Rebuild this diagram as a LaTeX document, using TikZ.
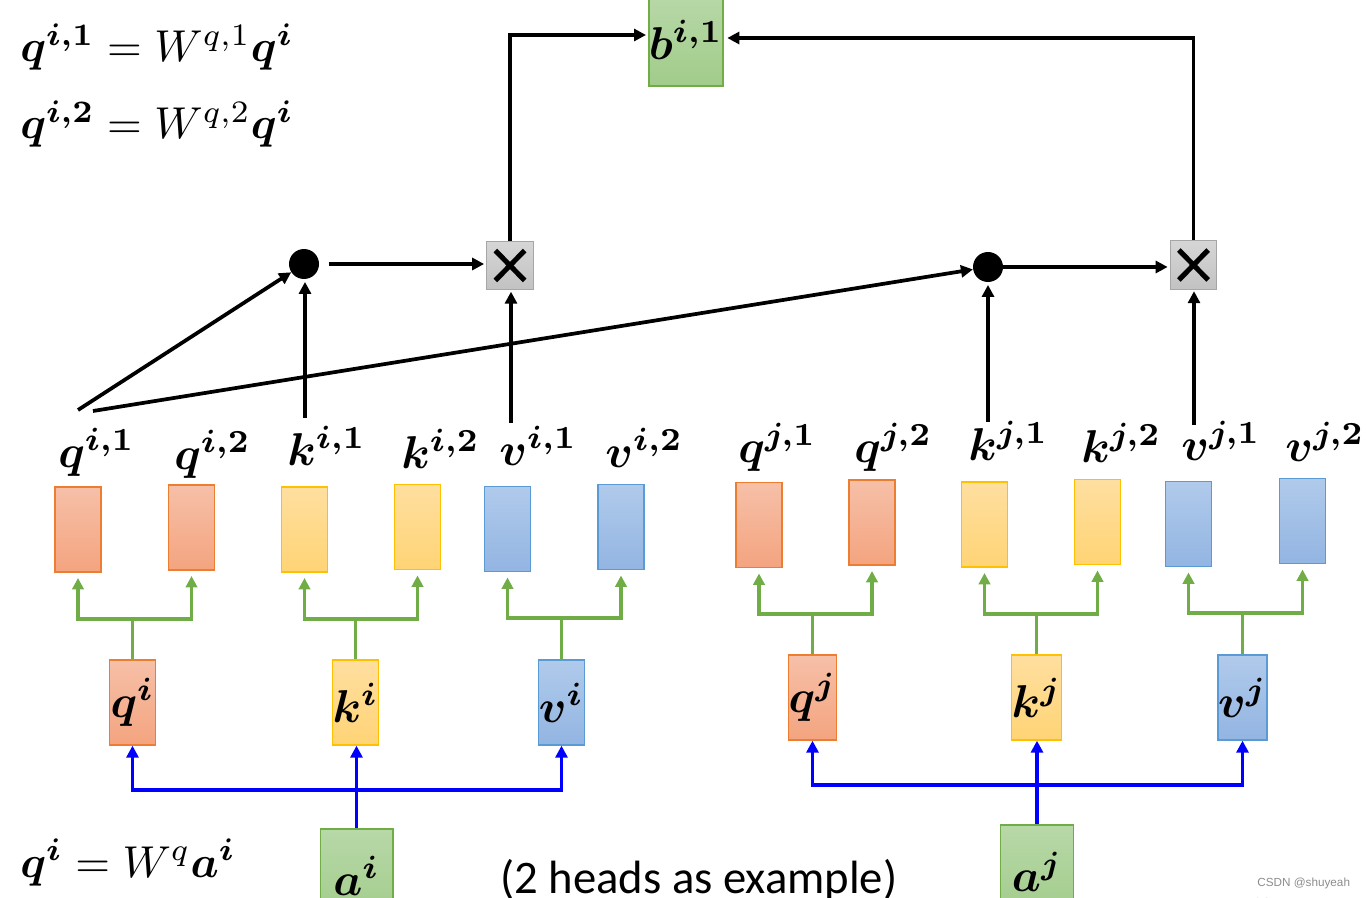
\documentclass[tikz,border=0pt]{standalone}
\usepackage{amsmath}
\usepackage{graphicx}
\usepackage{fontspec}
\newfontfamily\calibri{Carlito}
\newfontfamily\arialf{Liberation Sans}
\usetikzlibrary{arrows.meta}
\newcommand{\mlab}[1]{\scalebox{3.45}{\boldmath$#1$}}
\newcommand{\meqn}[1]{\scalebox{3.35}{$#1$}}
\definecolor{qtop}{HTML}{F6C0A8}
\definecolor{qbot}{HTML}{F4A47F}
\definecolor{qbd}{HTML}{ED7D31}
\definecolor{ktop}{HTML}{FFDFA0}
\definecolor{kbot}{HTML}{FFD475}
\definecolor{kbd}{HTML}{FFC000}
\definecolor{vtop}{HTML}{B0CAEB}
\definecolor{vbot}{HTML}{93B5E2}
\definecolor{vbd}{HTML}{5B9BD5}
\definecolor{atop}{HTML}{B8D8A8}
\definecolor{abot}{HTML}{A1CC8A}
\definecolor{abd}{HTML}{70AD47}
\definecolor{gcol}{HTML}{70AD47}
\definecolor{bcol}{HTML}{0000FF}
\definecolor{crtop}{HTML}{D6D6D6}
\definecolor{crbot}{HTML}{C2C2C2}
\tikzset{
  vec/.style={draw, line width=1pt, minimum width=34.5pt, minimum height=63.75pt, inner sep=0pt},
  qbox/.style={vec, draw=qbd, top color=qtop, bottom color=qbot},
  kbox/.style={vec, draw=kbd, top color=ktop, bottom color=kbot},
  vbox/.style={vec, draw=vbd, top color=vtop, bottom color=vbot},
  abox/.style={vec, draw=abd, top color=atop, bottom color=abot, minimum width=54.5pt, minimum height=70.5pt},
  lab/.style={inner sep=0pt, anchor=base west},
  eqn/.style={inner sep=0pt, anchor=base west},
  bk/.style={line width=2.8pt, -{Triangle[width=9pt,length=9pt]}},
  gl/.style={draw=gcol, line width=2.5pt},
  ga/.style={gl, {Triangle[width=8.5pt,length=8.5pt]}-{Triangle[width=8.5pt,length=8.5pt]}, shorten <=4pt, shorten >=4pt},
  bl/.style={draw=bcol, line width=2.9pt},
  ba/.style={bl, -{Triangle[width=9pt,length=9pt]}},
  bba/.style={bl, {Triangle[width=9pt,length=9pt]}-{Triangle[width=9pt,length=9pt]}},
  dotnode/.style={circle, fill=black, minimum size=22.5pt, inner sep=0pt},
  crossbox/.style={draw=black!35, line width=0.8pt, top color=crtop, bottom color=crbot,
     minimum width=35pt, minimum height=36.5pt, inner sep=0pt,
     path picture={
       \draw[draw=black, line width=3.8pt] ([shift={(6.5pt,-7pt)}]path picture bounding box.north west) -- ([shift={(-6.5pt,7pt)}]path picture bounding box.south east);
       \draw[draw=black, line width=3.8pt] ([shift={(6.5pt,7pt)}]path picture bounding box.south west) -- ([shift={(-6.5pt,-7pt)}]path picture bounding box.north east);
     }},
}
\begin{document}
\begin{tikzpicture}[x=0.75pt, y=-0.75pt]
\useasboundingbox (0,0) rectangle (1366,898);
\clip (0,0) rectangle (1366,898);

% equations
\node[eqn] (eq1) at (20,62) {\meqn{\boldsymbol{q}^{\boldsymbol{i,1}} = W^{q,1}\boldsymbol{q}^{\boldsymbol{i}}}};
\node[eqn] (eq2) at (20,139) {\meqn{\boldsymbol{q}^{\boldsymbol{i,2}} = W^{q,2}\boldsymbol{q}^{\boldsymbol{i}}}};
\node[eqn] (eq3) at (20,877) {\meqn{\boldsymbol{q}^{\boldsymbol{i}} = W^{q}\boldsymbol{a}^{\boldsymbol{i}}}};

% b box
\node[abox, minimum width=54pt, minimum height=69pt] (b) at (686,40) {\mlab{b^{i,1}}};

% dots and cross boxes
\node[dotnode] (d1) at (304,264) {};
\node[dotnode] (d2) at (988,267) {};
\node[crossbox] (c1) at (510,265.5) {};
\node[crossbox] (c2) at (1193.5,265) {};

% small vectors i
\node[qbox] (qi1) at (78,529.5) {};
\node[qbox] (qi2) at (191.5,527.5) {};
\node[kbox] (ki1) at (304.5,529.5) {};
\node[kbox] (ki2) at (417.5,527) {};
\node[vbox] (vi1) at (507.5,529) {};
\node[vbox] (vi2) at (621,527) {};
% small vectors j
\node[qbox] (qj1) at (759,525) {};
\node[qbox] (qj2) at (872,522.5) {};
\node[kbox] (kj1) at (984.5,524.5) {};
\node[kbox] (kj2) at (1097.5,522) {};
\node[vbox] (vj1) at (1188.5,524) {};
\node[vbox] (vj2) at (1302.5,521) {};

% labels
\node[lab] (lqi1) at (58,467) {\mlab{q^{i,1}}};
\node[lab] (lqi2) at (174,469) {\mlab{q^{i,2}}};
\node[lab] (lki1) at (287,465) {\mlab{k^{i,1}}};
\node[lab] (lki2) at (401,468) {\mlab{k^{i,2}}};
\node[lab] (lvi1) at (499,465) {\mlab{v^{i,1}}};
\node[lab] (lvi2) at (605,467) {\mlab{v^{i,2}}};
\node[lab] (lqj1) at (738,462) {\mlab{q^{j,1}}};
\node[lab] (lqj2) at (854,462) {\mlab{q^{j,2}}};
\node[lab] (lkj1) at (968,460) {\mlab{k^{j,1}}};
\node[lab] (lkj2) at (1081,462) {\mlab{k^{j,2}}};
\node[lab] (lvj1) at (1181,460) {\mlab{v^{j,1}}};
\node[lab] (lvj2) at (1285,461) {\mlab{v^{j,2}}};

% middle vectors
\node[qbox] (qi) at (132.5,702.5) {\mlab{q^{i}}};
\node[kbox] (ki) at (355.5,702.5) {\mlab{k^{i}}};
\node[vbox] (vi) at (561.5,702.5) {\mlab{v^{i}}};
\node[qbox] (qj) at (812.5,697.5) {\mlab{q^{j}}};
\node[kbox] (kj) at (1036.5,697.5) {\mlab{k^{j}}};
\node[vbox] (vj) at (1242.5,697.5) {\mlab{v^{j}}};

% inputs
\node[abox] (ai) at (356.5,876) {\mlab{a^{i}}};
\node[abox] (aj) at (1037,872) {\mlab{a^{j}}};

% green splits
\draw[ga] (qi1.south) -- (qi1.south |- 0,619) -| (qi2.south);
\draw[gl] (qi.north) -- (qi.north |- 0,619);
\draw[ga] (ki1.south) -- (ki1.south |- 0,619) -| (ki2.south);
\draw[gl] (ki.north) -- (ki.north |- 0,619);
\draw[ga] (vi1.south) -- (vi1.south |- 0,618) -| (vi2.south);
\draw[gl] (vi.north) -- (vi.north |- 0,618);
\draw[ga] (qj1.south) -- (qj1.south |- 0,614) -| (qj2.south);
\draw[gl] (qj.north) -- (qj.north |- 0,614);
\draw[ga] (kj1.south) -- (kj1.south |- 0,614) -| (kj2.south);
\draw[gl] (kj.north) -- (kj.north |- 0,614);
\draw[ga] (vj1.south) -- (vj1.south |- 0,613) -| (vj2.south);
\draw[gl] (vj.north) -- (vj.north |- 0,613);

% blue
\draw[bba] (qi.south) -- (qi.south |- 0,790) -| (vi.south);
\draw[ba] (ai.north) -- (ai.north |- ki.south);
\draw[bba] (qj.south) -- (qj.south |- 0,785) -| (vj.south);
\draw[ba] (aj.north) -- (aj.north |- kj.south);

% black connections
\coordinate (s1) at (78,410);
\coordinate (s2) at (93,411);
\coordinate (ski1) at (305,418);
\coordinate (svi1) at (511,423);
\coordinate (skj1) at (988,422);
\coordinate (svj1) at (1194,425);
\coordinate (bl) at (650,35);
\coordinate (br) at (722,38);
\draw[bk] (s1) -- (d1);
\draw[bk] (s2) -- (d2);
\draw[bk, shorten >=2pt] (ski1) -- (ski1 |- d1.south);
\draw[bk, shorten >=1pt] (svi1) -- (svi1 |- c1.south);
\draw[bk, shorten >=2pt] (skj1) -- (skj1 |- d2.south);
\draw[bk, shorten >=1pt] (svj1) -- (svj1 |- c2.south);
\draw[bk, shorten <=7pt, shorten >=1.5pt] (d1.east) -- (d1.east -| c1.west);
\draw[bk, shorten >=1.5pt] (d2.east) -- (d2.east -| c2.west);
\draw[bk, shorten >=3pt] (c1.north) |- (bl);
\draw[bk, shorten >=4pt] (c2.north) |- (br);

% text
\node[inner sep=0pt, anchor=base west, font=\calibri\fontsize{35}{40}\selectfont] (note) at (500,893) {(2 heads as example)};
\node[inner sep=0pt, anchor=base west, font=\arialf\fontsize{8.8}{10}\selectfont, text=black!45] (wm) at (1257,886) {CSDN @shuyeah};
\node[inner sep=0pt, anchor=base west, font=\arialf\fontsize{12}{14}\selectfont, text=black!45] (pg) at (1253,909) {36};
\end{tikzpicture}
\end{document}
